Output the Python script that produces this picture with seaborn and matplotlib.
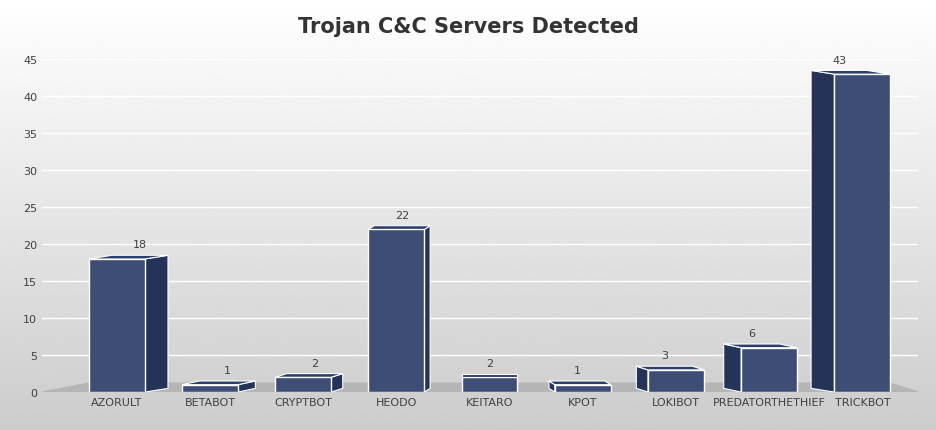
import numpy as np
import pandas as pd
import matplotlib
matplotlib.use("Agg")
import matplotlib.pyplot as plt
from matplotlib.patches import Polygon
import seaborn as sns

servers = ["AZORULT", "BETABOT", "CRYPTBOT", "HEODO", "KEITARO", "KPOT",
           "LOKIBOT", "PREDATORTHETHIEF", "TRICKBOT"]
counts = [18, 1, 2, 22, 2, 1, 3, 6, 43]
yticks = list(range(0, 50, 5))

df = pd.DataFrame({"server": servers, "count": counts})

fig = plt.figure(figsize=(9.37, 4.31), dpi=100)
# light grey -> white background gradient
bg = fig.add_axes([0, 0, 1, 1], zorder=-10)
grad = np.linspace(0.80, 1.0, 256).reshape(-1, 1)
bg.imshow(grad, aspect="auto", cmap="gray", vmin=0, vmax=1, origin="lower",
          extent=[0, 1, 0, 1])
bg.axis("off")

ax = fig.add_axes([0.045, 0.088, 0.935, 0.772])
ax.patch.set_alpha(0)
sns.barplot(data=df, x="server", y="count", color="#34497f", width=0.6,
            edgecolor="white", linewidth=1, ax=ax, zorder=3)

# floor
ax.add_patch(Polygon([(-0.8, 0), (8.6, 0), (8.3, 1.2), (-0.3, 1.2)],
                     closed=True, color="#b5b5b5", zorder=1))

# fake 3D side and top faces
for i, p in enumerate(ax.patches[:len(servers)]):
    x0, w, h = p.get_x(), p.get_width(), p.get_height()
    dx = 0.25 * (1 - i / 4.0) if i != 4 else 0
    dy = 0.5
    if dx >= 0:
        side = [(x0 + w, 0), (x0 + w + dx, dy), (x0 + w + dx, h + dy), (x0 + w, h)]
    else:
        side = [(x0, 0), (x0 + dx, dy), (x0 + dx, h + dy), (x0, h)]
    top = [(x0, h), (x0 + w, h), (x0 + w + dx, h + dy), (x0 + dx, h + dy)]
    ax.add_patch(Polygon(side, closed=True, fc="#243459", ec="white", lw=0.8, zorder=2))
    ax.add_patch(Polygon(top, closed=True, fc="#2b3e6c", ec="white", lw=0.8, zorder=4))
    ax.text(x0 + w / 2 + dx, h + dy + 0.8, str(counts[i]), ha="center",
            va="bottom", fontsize=8, color="#404040", zorder=5)

ax.set_ylim(0, 45)
ax.set_xlim(-0.8, 8.6)
ax.set_yticks(yticks)
ax.grid(axis="y", color="white", linewidth=1, zorder=0)
ax.set_axisbelow(True)
ax.tick_params(length=0, labelsize=8, colors="#404040")
ax.set_xlabel("")
ax.set_ylabel("")
for s in ax.spines.values():
    s.set_visible(False)

fig.suptitle("Trojan C&C Servers Detected", fontsize=15, fontweight="bold",
             color="#333333", y=0.96)
fig.savefig("out.png", dpi=100)
